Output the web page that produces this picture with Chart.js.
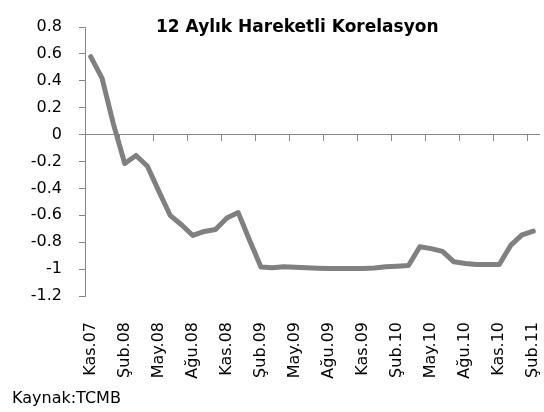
<!DOCTYPE html>
<html>
<head>
<meta charset="utf-8">
<script src="https://cdn.jsdelivr.net/npm/chart.js@4.4.0/dist/chart.umd.min.js"></script>
<style>
body { margin: 0; background: #fff; }
#wrap { position: relative; width: 544px; height: 412px; }
#title { position: absolute; left: 156px; top: 16px; font: bold 17px 'DejaVu Sans', sans-serif; line-height: 20px; color: #000; white-space: nowrap; }
#source { position: absolute; left: 12px; top: 388px; font: 16px 'DejaVu Sans', sans-serif; line-height: 20px; color: #000; }
</style>
</head>
<body>
<div id="wrap">
	<canvas id="cnvs"></canvas>
	<div id="title">12 Aylık Hareketli Korelasyon</div>
	<div id="source">Kaynak:TCMB</div>
</div>
<script>
// aylar: Kas.07 - Şub.11
var months = [
	'Kas.07', 'Ara.07',
	'Oca.08', 'Şub.08', 'Mar.08', 'Nis.08', 'May.08', 'Haz.08', 'Tem.08', 'Ağu.08', 'Eyl.08', 'Eki.08', 'Kas.08', 'Ara.08',
	'Oca.09', 'Şub.09', 'Mar.09', 'Nis.09', 'May.09', 'Haz.09', 'Tem.09', 'Ağu.09', 'Eyl.09', 'Eki.09', 'Kas.09', 'Ara.09',
	'Oca.10', 'Şub.10', 'Mar.10', 'Nis.10', 'May.10', 'Haz.10', 'Tem.10', 'Ağu.10', 'Eyl.10', 'Eki.10', 'Kas.10', 'Ara.10',
	'Oca.11', 'Şub.11'
];

// 12 aylık hareketli korelasyon
var korelasyon = [
	0.58, 0.42,
	0.08, -0.215, -0.155, -0.235, -0.42, -0.60, -0.67, -0.75, -0.72, -0.705, -0.62, -0.58,
	-0.785, -0.985, -0.99, -0.983, -0.986, -0.99, -0.993, -0.995, -0.995, -0.995, -0.995, -0.992,
	-0.983, -0.978, -0.973, -0.834, -0.848, -0.868, -0.946, -0.958, -0.965, -0.966, -0.966, -0.824,
	-0.745, -0.718
];

var yMin = -1.2;
var yMax = 0.8;
var yStep = 0.2;
var labelEvery = 3;

var axisGray = '#868686';
var tickFont = { family: "'DejaVu Sans', sans-serif", size: 16 };

function everyThird(c)
{
	return (c.index % labelEvery == 0) ? axisGray : 'rgba(0,0,0,0)';
}

var ctx = document.getElementById('cnvs').getContext('2d');
var chart = new Chart(ctx, {
	type: 'line',
	data: {
		labels: months,
		datasets: [{
			label: 'Korelasyon',
			data: korelasyon,
			borderColor: '#808080',
			borderWidth: 5,
			pointRadius: 0,
			tension: 0,
			borderJoinStyle: 'round',
			borderCapStyle: 'round'
		}]
	},
	options: {
		responsive: true,
		maintainAspectRatio: false,
		animation: false,
		layout: { padding: { left: 25, top: 27, right: 5, bottom: 26 } },
		plugins: {
			legend: { display: false },
			title: { display: false },
			tooltip: { enabled: false }
		},
		scales: {
			x: {
				offset: true,
				afterFit: function(s) {
					s.height = 90;
					s.paddingLeft = 0;
					s.paddingRight = 0;
				},
				border: { display: false },
				grid: { display: false, drawTicks: false },
				ticks: {
					autoSkip: false,
					minRotation: 90,
					maxRotation: 90,
					padding: 26,
					color: '#000',
					font: tickFont,
					callback: function(v, i) {
						return (i % labelEvery == 0) ? this.getLabelForValue(v) : '';
					}
				}
			},
			x2: {
				type: 'category',
				axis: 'x',
				position: { y: 0 },
				offset: true,
				border: { color: axisGray, width: 1 },
				grid: {
					offset: true,
					drawOnChartArea: false,
					drawTicks: true,
					tickLength: 6,
					color: everyThird,
					tickColor: everyThird
				},
				ticks: { display: false }
			},
			y: {
				min: yMin,
				max: yMax,
				afterFit: function(s) { s.width = 60; },
				border: { color: axisGray, width: 1 },
				grid: { drawOnChartArea: false, drawTicks: true, tickLength: 6, color: axisGray },
				ticks: {
					stepSize: yStep,
					padding: 17,
					color: '#000',
					font: tickFont,
					callback: function(v) { return String(Math.round(v * 10) / 10); }
				}
			}
		}
	}
});
</script>
</body>
</html>
